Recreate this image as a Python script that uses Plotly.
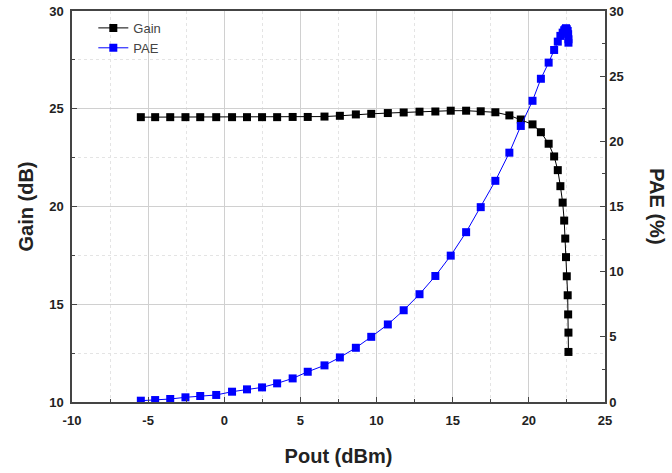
import plotly.graph_objects as go

pout = [-5.48, -4.54, -3.55, -2.55, -1.58, -0.53, 0.51, 1.49, 2.48, 3.47, 4.49, 5.48,
        6.58, 7.59, 8.64, 9.65, 10.74, 11.78, 12.82, 13.86, 14.87, 15.88, 16.84, 17.8,
        18.72, 19.47, 20.24, 20.79, 21.3, 21.66, 21.9, 22.07, 22.22, 22.32, 22.39, 22.44,
        22.49, 22.55, 22.58, 22.6, 22.6]
gain = [24.57, 24.57, 24.57, 24.57, 24.57, 24.57, 24.57, 24.57, 24.57, 24.57, 24.58, 24.58,
        24.6, 24.64, 24.71, 24.74, 24.78, 24.81, 24.85, 24.86, 24.9, 24.9, 24.87, 24.82,
        24.66, 24.45, 24.2, 23.8, 23.21, 22.56, 21.86, 21.04, 20.2, 19.28, 18.36, 17.41,
        16.43, 15.46, 14.48, 13.55, 12.56]
pae = [0.1, 0.15, 0.23, 0.36, 0.46, 0.54, 0.79, 0.97, 1.12, 1.43, 1.81, 2.32,
       2.81, 3.42, 4.16, 5.0, 5.95, 7.04, 8.27, 9.67, 11.23, 13.03, 14.95, 16.97,
       19.13, 21.18, 23.11, 24.8, 26.04, 27.01, 27.65, 28.09, 28.34, 28.52, 28.6, 28.68,
       28.6, 28.47, 28.22, 27.83, 27.57]

x_ticks = [-10, -5, 0, 5, 10, 15, 20, 25]
x_ticktext = ["-10", "-5", "0", "5", "10", "15", "20", "25"]
gain_ticks = [10, 15, 20, 25, 30]
pae_ticks = [0, 5, 10, 15, 20, 25, 30]

FONT = "Liberation Sans, Arial, sans-serif"

fig = go.Figure()
fig.add_trace(go.Scatter(x=pout, y=gain, name="Gain", mode="lines+markers",
                         line=dict(color="black", width=1),
                         marker=dict(symbol="square", size=8, color="black")))
fig.add_trace(go.Scatter(x=pout, y=pae, name="PAE", mode="lines+markers", yaxis="y2",
                         line=dict(color="#0000ff", width=1),
                         marker=dict(symbol="square", size=8, color="#0000ff")))

tickfont = dict(family=FONT, size=13, color="#222", weight="bold")
fig.update_layout(
    width=672, height=473,
    margin=dict(l=72, r=67, t=11, b=71),
    paper_bgcolor="white", plot_bgcolor="white",
    font=dict(family=FONT, color="#222"),
    showlegend=True,
    legend=dict(x=0.04, y=0.995, xanchor="left", yanchor="top",
                bgcolor="rgba(0,0,0,0)", font=dict(family=FONT, size=13, color="#444"),
                tracegroupgap=0, itemwidth=30),
    xaxis=dict(range=[-10, 25], tickvals=x_ticks, ticktext=x_ticktext, automargin=False,
               showline=True, linecolor="#444", linewidth=1.5, mirror=True,
               ticks="inside", ticklen=5, tickcolor="#444", ticklabelstandoff=6,
               showgrid=True, gridcolor="#d0d0d0", gridwidth=1,
               minor=dict(dtick=2.5, tick0=-10, ticks="inside", ticklen=3, tickcolor="#444",
                          showgrid=True, gridcolor="#e4e4e4", griddash="dot"),
               zeroline=False, tickfont=tickfont,
               title=dict(text="Pout (dBm)", font=dict(family=FONT, size=20, color="#222", weight="bold"),
                          standoff=22)),
    yaxis=dict(range=[10, 30], tickvals=gain_ticks, automargin=False,
               showline=True, linecolor="#444", linewidth=1.5,
               ticks="inside", ticklen=5, tickcolor="#444", ticklabelstandoff=4,
               showgrid=True, gridcolor="#d0d0d0", gridwidth=1,
               minor=dict(dtick=2.5, tick0=10, ticks="inside", ticklen=3, tickcolor="#444",
                          showgrid=True, gridcolor="#e4e4e4", griddash="dot"),
               zeroline=False, tickfont=tickfont,
               title=dict(text="Gain (dB)", font=dict(family=FONT, size=20, color="#222", weight="bold"),
                          standoff=10)),
    yaxis2=dict(range=[0, 30], tickvals=pae_ticks, overlaying="y", side="right", automargin=False,
                showline=True, linecolor="#444", linewidth=1.5,
                ticks="inside", ticklen=5, tickcolor="#444", showgrid=False,
                minor=dict(dtick=2.5, tick0=0, ticks="inside", ticklen=3, tickcolor="#444",
                           showgrid=False),
                zeroline=False, tickfont=tickfont),
    annotations=[dict(text="PAE (%)", textangle=90, xref="paper", yref="paper",
                      x=1.098, y=0.5, xanchor="center", yanchor="middle", showarrow=False,
                      font=dict(family=FONT, size=20, color="#222", weight="bold"))],
)

fig.write_html("out.html")
